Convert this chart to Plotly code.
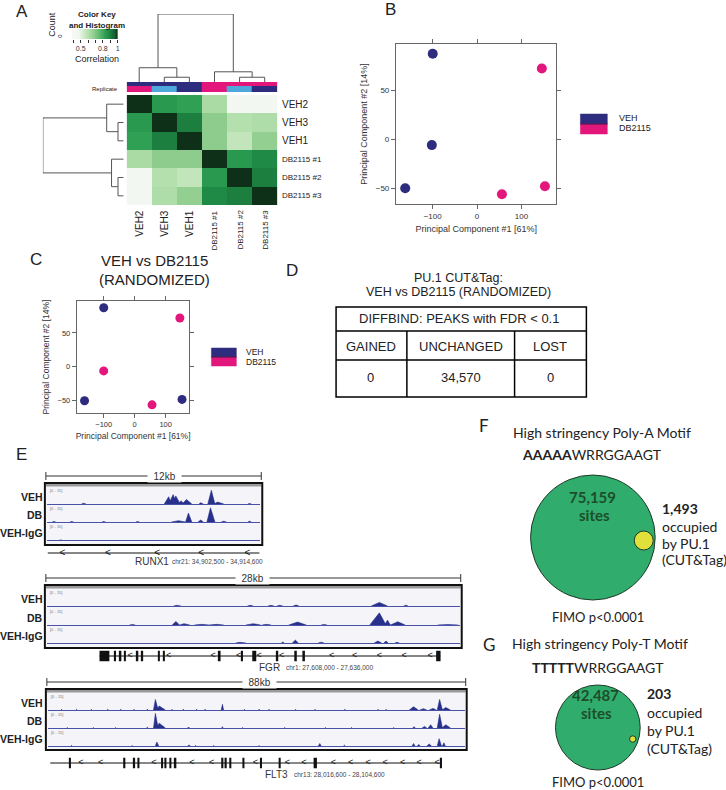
import plotly.graph_objects as go

W, H = 726, 790
FONT = "Liberation Sans"
FONT2 = "Lato"
NAVY = "#2e2c7e"
MAGENTA = "#e3167b"
LIGHTBLUE = "#4fa8dc"
TRACK_BLUE = "#27318b"
DARK = "#222222"

# ---------------- Panel A data ----------------
samples = ["VEH2", "VEH3", "VEH1", "DB2115 #1", "DB2115 #2", "DB2115 #3"]
corr = [
    [1.00, 0.84, 0.82, 0.62, 0.45, 0.45],
    [0.84, 1.00, 0.90, 0.68, 0.60, 0.61],
    [0.82, 0.90, 1.00, 0.68, 0.57, 0.67],
    [0.62, 0.68, 0.68, 1.00, 0.84, 0.88],
    [0.45, 0.60, 0.57, 0.84, 1.00, 0.90],
    [0.45, 0.61, 0.67, 0.88, 0.90, 1.00],
]
condition_code = [0, 0, 0, 1, 1, 1]      # 0 = VEH (navy), 1 = DB2115 (magenta)
replicate_code = [1, 2, 0, 1, 2, 0]      # 1 = pink, 2 = light blue, 0 = navy
dend_merges = [(1, 2, 0.07), (0, 6, 0.21), (4, 5, 0.07), (3, 8, 0.15), (7, 9, 1.0)]
key_vals = [0.38 + 0.01 * i for i in range(63)]
key_ticks = [0.4, 0.5, 0.6, 0.7, 0.8, 0.9, 1.0]
key_ticktext = ["", "0.5", "", "", "0.8", "", "1"]

# ---------------- Panels B / C data ----------------
pcB_veh_x = [-100, -102, -162]
pcB_veh_y = [87, -6, -50]
pcB_db_x = [146, 56, 153]
pcB_db_y = [72, -56, -48]
pcC_veh_x = [-100, -162, 153]
pcC_veh_y = [87, -50, -48]
pcC_db_x = [146, -100, 56]
pcC_db_y = [72, -6, -56]
pc_ticks = [-100, 0, 100]
pc2_ticks = [-50, 0, 50]

# ---------------- Panel D data ----------------
table_header = "DIFFBIND: PEAKS with FDR < 0.1"
table_cols = ["GAINED", "UNCHANGED", "LOST"]
table_vals = ["0", "34,570", "0"]

# ---------------- Panel E data (peaks: start, summit, end, height) ----------------
runx1_veh = [(1.95, 2.05, 2.2, 0.05), (6.6, 6.85, 7.0, 0.45), (6.85, 7.1, 7.3, 0.58),
             (7.05, 7.25, 7.5, 0.5), (7.4, 7.55, 7.7, 0.2), (7.6, 7.85, 8.15, 0.28),
             (8.55, 8.65, 8.8, 0.08), (9.05, 9.25, 9.45, 0.85), (9.4, 9.6, 9.95, 0.12),
             (11.3, 11.4, 11.5, 0.03)]
runx1_db = [(0.3, 0.4, 0.5, 0.03), (1.3, 1.4, 1.5, 0.03), (3.1, 3.2, 3.3, 0.03),
            (5.0, 5.1, 5.2, 0.03), (7.0, 7.4, 7.8, 0.08), (7.8, 7.96, 8.15, 0.55),
            (8.5, 8.65, 8.8, 0.12), (9.0, 9.2, 9.45, 0.88), (9.8, 9.95, 10.1, 0.05),
            (11.3, 11.4, 11.5, 0.05)]
runx1_igg = [(0.7, 0.78, 0.86, 0.02)]
fgr_veh = [(8.6, 8.8, 9.1, 0.04), (13.6, 13.8, 14.0, 0.04), (15.0, 15.2, 15.4, 0.04),
           (15.6, 15.8, 16.0, 0.04), (16.7, 16.9, 17.1, 0.06), (22.0, 22.55, 23.1, 0.22),
           (24.2, 24.35, 24.5, 0.05)]
fgr_db = [(5.6, 5.8, 6.0, 0.03), (8.5, 8.75, 9.0, 0.22), (9.0, 9.3, 9.7, 0.08),
          (10.0, 10.5, 11.0, 0.04), (11.0, 11.5, 12.0, 0.04), (13.5, 14.0, 14.5, 0.08),
          (14.6, 14.9, 15.2, 0.04), (16.4, 17.0, 17.6, 0.18), (18.6, 18.8, 19.0, 0.03),
          (21.9, 22.55, 23.0, 0.75), (22.9, 23.1, 23.3, 0.3), (23.3, 23.8, 24.3, 0.2),
          (26.5, 27.2, 27.9, 0.03)]
fgr_igg = [(12.8, 13.1, 13.5, 0.04), (15.9, 16.0, 16.1, 0.06), (16.65, 16.85, 17.05, 0.18),
           (18.4, 18.6, 18.8, 0.05), (22.2, 22.45, 22.7, 0.12), (22.85, 23.0, 23.15, 0.12),
           (23.6, 23.75, 23.9, 0.04)]
flt3_veh = [(2.8, 2.9, 3.0, 0.04), (5.9, 6.05, 6.2, 0.04), (9.1, 9.2, 9.3, 0.04),
            (12.5, 12.65, 12.8, 0.04), (15.3, 15.4, 15.5, 0.04), (18.1, 18.2, 18.3, 0.04),
            (20.9, 21.0, 21.1, 0.05), (22.3, 22.7, 23.3, 0.65), (22.9, 23.5, 24.8, 0.25),
            (26.1, 26.2, 26.3, 0.04), (28.5, 28.6, 28.7, 0.05), (31.3, 31.4, 31.5, 0.04),
            (33.1, 33.2, 33.3, 0.05), (36.6, 36.85, 37.1, 0.35), (41.4, 41.5, 41.6, 0.04),
            (44.5, 44.6, 44.7, 0.05), (46.6, 46.7, 46.8, 0.04), (52.2, 52.3, 52.4, 0.04),
            (56.3, 56.4, 56.5, 0.04), (62.6, 62.7, 62.8, 0.04), (69.6, 69.7, 69.8, 0.04),
            (71.3, 71.4, 71.5, 0.04), (76.3, 77.2, 78.2, 0.2), (78.5, 79.3, 80.0, 0.08),
            (80.5, 81.3, 82.0, 0.1), (82.2, 82.7, 83.3, 0.65), (83.2, 84.0, 85.0, 0.15)]
flt3_db = [(4.0, 4.1, 4.2, 0.03), (9.5, 9.6, 9.7, 0.03), (14.2, 14.3, 14.4, 0.03),
           (20.8, 21.0, 21.2, 0.05), (22.3, 22.7, 23.3, 0.9), (22.9, 23.5, 24.8, 0.3),
           (29.5, 29.7, 29.9, 0.06), (36.7, 36.85, 37.0, 0.08), (41.0, 41.1, 41.2, 0.03),
           (49.9, 50.0, 50.1, 0.03), (58.5, 58.6, 58.7, 0.03), (64.0, 64.1, 64.2, 0.03),
           (72.9, 73.0, 73.1, 0.03), (77.0, 77.3, 77.6, 0.08), (79.0, 79.5, 80.0, 0.1),
           (80.3, 80.8, 81.3, 0.2), (82.2, 82.7, 83.3, 0.85), (83.2, 84.0, 85.0, 0.2)]
flt3_igg = [(4.9, 5.0, 5.1, 0.04), (17.7, 17.8, 17.9, 0.03), (22.7, 23.0, 23.4, 0.25),
            (29.5, 29.8, 30.1, 0.06), (31.1, 31.2, 31.3, 0.04), (34.9, 35.0, 35.1, 0.03),
            (44.5, 44.6, 44.7, 0.03), (57.1, 57.4, 57.7, 0.15), (62.4, 62.6, 62.8, 0.05),
            (76.9, 77.2, 77.5, 0.15), (78.0, 78.3, 78.6, 0.1), (80.0, 80.5, 81.0, 0.12),
            (82.2, 82.6, 83.1, 0.45), (83.3, 83.6, 83.9, 0.2)]

runx1_span = [0.05, 11.95]
runx1_arrows = [0.88, 3.43, 6.2, 8.68, 11.28]
runx1_exons = []
fgr_span = [3.57, 26.68]
fgr_arrows = [5.65, 8.26, 11.27, 13.0, 14.4, 15.92, 19.31, 20.88, 22.55, 24.23, 26.0]
fgr_exons = [(3.57, 4.24), (4.57, 4.69), (4.93, 5.05), (5.24, 5.36), (6.08, 6.2), (6.41, 6.53),
             (7.53, 7.65), (7.87, 7.99), (11.66, 11.78), (13.18, 13.3), (13.93, 14.2),
             (15.57, 15.69), (16.78, 16.95), (17.33, 17.5), (26.4, 26.7)]
flt3_span = [0.5, 83.2]
flt3_arrows = [6.95, 11.12, 22.39, 30.39, 34.56, 43.8, 50.55, 54.03, 60.29, 63.9, 67.6,
               71.2, 74.9, 78.4, 82.2]
flt3_exons = [(4.45, 4.87), (15.9, 16.35), (18.0, 18.42), (18.9, 19.33), (23.9, 24.33),
              (24.6, 25.03), (25.65, 26.08), (26.7, 27.12), (36.6, 37.05), (37.3, 37.75),
              (38.3, 38.73), (41.07, 41.5), (44.77, 45.2), (48.72, 49.15), (56.1, 56.8),
              (82.78, 83.2)]

# ---------------- Helpers ----------------
def px(x):
    return x / W


def py(y):
    return 1 - y / H


layout = dict(width=W, height=H, autosize=False, margin=dict(l=0, r=0, t=0, b=0),
              paper_bgcolor="white", plot_bgcolor="rgba(0,0,0,0)", showlegend=False,
              font=dict(family=FONT, color=DARK), barmode="overlay")
shapes = []
annotations = []
fig = go.Figure()


def axis_pair(i, x0, x1, y0, y1, xkw=None, ykw=None):
    sx = "" if i == 1 else str(i)
    base = dict(showgrid=False, zeroline=False, showticklabels=False, ticks="", showline=False,
                fixedrange=True)
    xa = dict(base, domain=[px(x0), px(x1)], anchor="y" + sx)
    ya = dict(base, domain=[py(y1), py(y0)], anchor="x" + sx)
    if xkw:
        xa.update(xkw)
    if ykw:
        ya.update(ykw)
    layout["xaxis" + sx] = xa
    layout["yaxis" + sx] = ya
    return "x" + sx, "y" + sx


def text(x, y, s, size=10, anchor="center", family=FONT, color=DARK, angle=0, yanchor="middle", **kw):
    annotations.append(dict(x=px(x), y=py(y), xref="paper", yref="paper", text=s, showarrow=False,
                            font=dict(size=size, family=family, color=color), xanchor=anchor,
                            yanchor=yanchor, textangle=angle, borderpad=0, **kw))


def rect(x0, y0, x1, y1, fill=None, line="black", lw=1, layer="above"):
    shapes.append(dict(type="rect", xref="paper", yref="paper", x0=px(x0), x1=px(x1), y0=py(y1),
                       y1=py(y0), fillcolor=fill if fill else "rgba(0,0,0,0)",
                       line=dict(color=line, width=lw), layer=layer))


def hline(x0, x1, y, color="black", lw=1):
    shapes.append(dict(type="line", xref="paper", yref="paper", x0=px(x0), x1=px(x1), y0=py(y),
                       y1=py(y), line=dict(color=color, width=lw)))


def vline(x, y0, y1, color="black", lw=1):
    shapes.append(dict(type="line", xref="paper", yref="paper", x0=px(x), x1=px(x), y0=py(y0),
                       y1=py(y1), line=dict(color=color, width=lw)))


def circle(cx, cy, r, fill, line="#1f3a28", lw=1):
    shapes.append(dict(type="circle", xref="paper", yref="paper", x0=px(cx - r), x1=px(cx + r),
                       y0=py(cy + r), y1=py(cy - r), fillcolor=fill, line=dict(color=line, width=lw)))


# ---------------- Panel A ----------------
text(22, 12, "A", size=17)
green_scale = [[0, "#f7f7f7"], [0.12, "#f1f7ef"], [0.33, "#b5e0ae"], [0.47, "#8ccc8c"],
               [0.7, "#30a055"], [0.8, "#1f8a45"], [0.85, "#1a7a3e"], [0.93, "#155f30"],
               [1, "#0e2f18"]]
xa, ya = axis_pair(1, 127, 278, 95, 205, xkw=dict(range=[-0.5, 5.5]), ykw=dict(range=[5.5, -0.5]))
fig.add_trace(go.Heatmap(z=corr, x=list(range(6)), y=list(range(6)), colorscale=green_scale,
                         zmin=0.4, zmax=1.0, showscale=False, xaxis=xa, yaxis=ya, hoverinfo="skip"))
for i, s in enumerate(samples):
    fs = 10 if s.startswith("VEH") else 8
    annotations.append(dict(x=5.5, y=i, xref="x", yref="y", text=s, showarrow=False, xanchor="left",
                            xshift=3, font=dict(size=fs, family=FONT, color=DARK)))
    annotations.append(dict(x=i, y=5.5, xref="x", yref="y", text=s, showarrow=False, textangle=-90,
                            xanchor="center", yanchor="top", yshift=-3,
                            font=dict(size=fs, family=FONT, color=DARK)))

# dendrograms
pos = {i: float(i) for i in range(6)}
hgt = {i: 0.0 for i in range(6)}
dx, dy = [], []
for k, (a, b, h) in enumerate(dend_merges):
    node = 6 + k
    dx += [pos[a], pos[a], pos[b], pos[b], None]
    dy += [hgt[a], h, h, hgt[b], None]
    pos[node] = (pos[a] + pos[b]) / 2
    hgt[node] = h
xa, ya = axis_pair(3, 127, 278, 14, 82, xkw=dict(range=[-0.5, 5.5]), ykw=dict(range=[0, 1.0]))
fig.add_trace(go.Scatter(x=dx, y=dy, mode="lines", line=dict(color="#555", width=1), xaxis=xa,
                         yaxis=ya, hoverinfo="skip"))
xa, ya = axis_pair(4, 43, 124, 95, 205, xkw=dict(range=[1.0, 0]), ykw=dict(range=[5.5, -0.5]))
fig.add_trace(go.Scatter(x=dy, y=dx, mode="lines", line=dict(color="#555", width=1), xaxis=xa,
                         yaxis=ya, hoverinfo="skip"))

# replicate bar
bar_scale = [[0, NAVY], [0.33, NAVY], [0.34, MAGENTA], [0.66, MAGENTA], [0.67, LIGHTBLUE], [1, LIGHTBLUE]]
xa, ya = axis_pair(5, 127, 278, 82, 92, xkw=dict(range=[-0.5, 5.5]), ykw=dict(range=[1.0, 0]))
fig.add_trace(go.Heatmap(z=[condition_code, replicate_code], x=list(range(6)), y=[0, 0.4, 1.0],
                         colorscale=bar_scale, zmin=0, zmax=2, showscale=False, xaxis=xa, yaxis=ya,
                         hoverinfo="skip"))
text(119, 89, "Replicate", size=6, anchor="right")

# color key
xa, ya = axis_pair(2, 72, 118, 29, 39,
                   xkw=dict(range=[0.38, 1.0], ticks="outside", ticklen=3, tickwidth=1, tickcolor="#333",
                            showticklabels=True, tickvals=key_ticks, ticktext=key_ticktext,
                            tickfont=dict(size=7, color="#333")),
                   ykw=dict(range=[-0.5, 0.5]))
fig.add_trace(go.Heatmap(z=[key_vals], x=key_vals, y=[0], colorscale=green_scale, zmin=0.4, zmax=1.0,
                         showscale=False, xaxis=xa, yaxis=ya, hoverinfo="skip"))
text(97, 15, "<b>Color Key</b>", size=8)
text(97, 26, "<b>and Histogram</b>", size=8)
text(97, 59, "Correlation", size=9)
text(52, 24, "Count", size=9, angle=-90)
text(60, 36, "0", size=6, angle=-90)

# ---------------- Panel B ----------------
text(392, 10, "B", size=17)


def pca_axes(i, x0, x1, y0, y1, xr, yr, fs, tfs, standx, standy):
    common = dict(showline=True, linecolor="#666", linewidth=1, mirror="allticks", ticks="outside",
                  ticklen=4, tickcolor="#666", showticklabels=True,
                  tickfont=dict(size=fs, color="#333"))
    return axis_pair(i, x0, x1, y0, y1,
                     xkw=dict(common, range=xr, tickvals=pc_ticks,
                              title=dict(text="Principal Component #1 [61%]", font=dict(size=tfs, color="#333"),
                                         standoff=standx)),
                     ykw=dict(common, range=yr, tickvals=pc2_ticks,
                              title=dict(text="Principal Component #2 [14%]", font=dict(size=tfs, color="#333"),
                                         standoff=standy)))


xa, ya = pca_axes(6, 397, 558, 44, 204, [-183, 179], [-66, 97], 8, 9, 6, 6)
fig.add_trace(go.Scatter(x=pcB_veh_x, y=pcB_veh_y, mode="markers", marker=dict(size=10, color=NAVY),
                         xaxis=xa, yaxis=ya, hoverinfo="skip"))
fig.add_trace(go.Scatter(x=pcB_db_x, y=pcB_db_y, mode="markers", marker=dict(size=10, color=MAGENTA),
                         xaxis=xa, yaxis=ya, hoverinfo="skip"))
rect(582, 114, 609, 124, fill=NAVY, line=NAVY, lw=0.5)
rect(582, 124, 609, 134, fill=MAGENTA, line=MAGENTA, lw=0.5)
hline(582, 609, 124, color="#3a1f4a", lw=1)
text(620, 118, "VEH", size=9, anchor="left")
text(620, 128, "DB2115", size=9, anchor="left")

# ---------------- Panel C ----------------
text(36, 259, "C", size=17)
text(155, 260, "VEH vs DB2115", size=15)
text(155, 279, "(RANDOMIZED)", size=15)
xa, ya = pca_axes(7, 77, 190, 301, 413, [-187, 177], [-68, 97], 7.5, 8.5, 5, 6)
fig.add_trace(go.Scatter(x=pcC_veh_x, y=pcC_veh_y, mode="markers", marker=dict(size=9, color=NAVY),
                         xaxis=xa, yaxis=ya, hoverinfo="skip"))
fig.add_trace(go.Scatter(x=pcC_db_x, y=pcC_db_y, mode="markers", marker=dict(size=9, color=MAGENTA),
                         xaxis=xa, yaxis=ya, hoverinfo="skip"))
rect(212, 348, 237, 357, fill=NAVY, line=NAVY, lw=0.5)
rect(212, 357, 237, 366, fill=MAGENTA, line=MAGENTA, lw=0.5)
hline(212, 237, 357, color="#3a1f4a", lw=1)
text(246, 352, "VEH", size=8.5, anchor="left")
text(246, 362, "DB2115", size=8.5, anchor="left")

# ---------------- Panel D ----------------
text(293, 270, "D", size=17)
text(460, 278, "PU.1 CUT&Tag:", size=12.5)
text(460, 292, "VEH vs DB2115 (RANDOMIZED)", size=12.5)
rect(337, 307, 588, 397, lw=1.5)
hline(337, 588, 331, lw=1.5)
hline(337, 588, 360, lw=1.5)
vline(408, 331, 397, lw=1.5)
vline(516, 331, 397, lw=1.5)
text(460, 319, table_header, size=13)
col_cx = [372, 462, 552]
for cx, c, v in zip(col_cx, table_cols, table_vals):
    text(cx, 346, c, size=13)
    text(cx, 377, v, size=13)

# ---------------- Panel E ----------------
text(22, 455, "E", size=17)
regions = [
    dict(box=(45, 263, 483, 545), L=12, tracks=[(487, 504), (505, 522), (523, 540)],
         gene=(546, 560), peaks=[runx1_veh, runx1_db, runx1_igg], span=runx1_span,
         arrows=runx1_arrows, exons=runx1_exons, sb_y=476, sb_label="12kb", sb_x=165,
         name="RUNX1", name_x=152, name_y=561, chrom="chr21: 34,902,500 - 34,914,600", chrom_x=218,
         arrow_size=10),
    dict(box=(45, 463, 585, 648), L=28, tracks=[(589, 606), (608, 625), (626, 643)],
         gene=(649, 663), peaks=[fgr_veh, fgr_db, fgr_igg], span=fgr_span,
         arrows=fgr_arrows, exons=fgr_exons, sb_y=578, sb_label="28kb", sb_x=253,
         name="FGR", name_x=270, name_y=667, chrom="chr1: 27,608,000 - 27,636,000", chrom_x=330,
         arrow_size=9),
    dict(box=(46, 468, 689, 750), L=88, tracks=[(693, 710), (711, 728), (729, 746)],
         gene=(756, 770), peaks=[flt3_veh, flt3_db, flt3_igg], span=flt3_span,
         arrows=flt3_arrows, exons=flt3_exons, sb_y=682, sb_label="88kb", sb_x=260,
         name="FLT3", name_x=277, name_y=774, chrom="chr13: 28,016,600 - 28,104,600", chrom_x=340,
         arrow_size=9),
]
track_names = ["VEH", "DB", "VEH-IgG"]
ax_i = 8
for r, reg in enumerate(regions):
    bx0, bx1, by0, by1 = reg["box"]
    # box background + border
    rect(bx0, by0, bx1, by1, fill="#f5f5f9", line="rgba(0,0,0,0)", lw=0, layer="below")
    rect(bx0 + 1, by0 + 1, bx1 - 1, by0 + 3.5, fill="#9a9a9a", line="rgba(0,0,0,0)", lw=0)
    rect(bx0, by0, bx1, by1, line="#111", lw=2)
    # scale bar
    hline(bx0 + 1, bx1 - 1, reg["sb_y"], color="#333", lw=1)
    vline(bx0 + 1, reg["sb_y"] - 4, reg["sb_y"] + 4, color="#333", lw=1)
    vline(bx1 - 1, reg["sb_y"] - 4, reg["sb_y"] + 4, color="#333", lw=1)
    text(reg["sb_x"], reg["sb_y"], "&nbsp;&nbsp;" + reg["sb_label"] + "&nbsp;&nbsp;", size=10,
         bgcolor="white", color="#333")
    for t, (ty0, ty1) in enumerate(reg["tracks"]):
        xa, ya = axis_pair(ax_i, bx0 + 2, bx1 - 2, ty0, ty1,
                           xkw=dict(range=[0, reg["L"]], showline=True, linecolor="#4a52a8", linewidth=1),
                           ykw=dict(range=[0, 1.05]))
        ax_i += 1
        xs, ys = [], []
        for s, m, e, h in reg["peaks"][t]:
            xs += [s, m, e, None]
            ys += [0, h, 0, None]
        fig.add_trace(go.Scatter(x=xs, y=ys, mode="lines", fill="toself", fillcolor=TRACK_BLUE,
                                 line=dict(color=TRACK_BLUE, width=0.6), xaxis=xa, yaxis=ya,
                                 hoverinfo="skip"))
        text(bx0 + 4, ty0 + 3, "[0 - 15]", size=4, anchor="left", color="#777")
        text(44, (ty0 + ty1) / 2 + 1, "<b>" + track_names[t] + "</b>", size=10.5, anchor="right")
    # gene model
    gy0, gy1 = reg["gene"]
    xa, ya = axis_pair(16 + r + 1, bx0 + 2, bx1 - 2, gy0, gy1,
                       xkw=dict(range=[0, reg["L"]]), ykw=dict(range=[-1, 1]))
    fig.add_trace(go.Scatter(x=reg["span"], y=[0, 0], mode="lines", line=dict(color="#111", width=1.1),
                             xaxis=xa, yaxis=ya, hoverinfo="skip"))
    if reg["exons"]:
        fig.add_trace(go.Bar(x=[(a + b) / 2 for a, b in reg["exons"]], y=[1.5] * len(reg["exons"]),
                             base=-0.75, width=[b - a for a, b in reg["exons"]],
                             marker=dict(color="#111", line=dict(width=0)), xaxis=xa, yaxis=ya,
                             hoverinfo="skip"))
    fig.add_trace(go.Scatter(x=reg["arrows"], y=[0] * len(reg["arrows"]), mode="text",
                             text=["<"] * len(reg["arrows"]), textposition="middle center",
                             textfont=dict(size=reg["arrow_size"], color="#111", family=FONT),
                             xaxis=xa, yaxis=ya, hoverinfo="skip"))
    text(reg["name_x"], reg["name_y"], reg["name"], size=10, color="#333")
    text(reg["chrom_x"], reg["name_y"], reg["chrom"], size=6.5, color="#444")

# ---------------- Panel F ----------------
GREEN = "#30ad6c"
YELLOW = "#dfe03a"
DKGREEN = "#1d4d2b"
text(485, 425, "F", size=17, family=FONT2)
text(513, 432, "High stringency Poly-A Motif", size=14, anchor="left", family=FONT2)
text(594, 455, "<b>AAAAA</b>WRRGGAAGT", size=14, family=FONT2)
circle(594.5, 537.5, 62.5, GREEN)
circle(645.5, 540.5, 9.5, YELLOW)
text(594, 497, "<b>75,159</b>", size=15, family=FONT2, color=DKGREEN)
text(596, 515, "<b>sites</b>", size=15, family=FONT2, color=DKGREEN)
text(663, 508, "<b>1,493</b>", size=14, anchor="left", family=FONT2)
text(663, 526, "occupied", size=14, anchor="left", family=FONT2)
text(663, 543, "by PU.1", size=14, anchor="left", family=FONT2)
text(663, 559, "(CUT&Tag)", size=14, anchor="left", family=FONT2)
text(600, 617, "FIMO p&lt;0.0001", size=13, family=FONT2)

# ---------------- Panel G ----------------
text(490, 644, "G", size=17, family=FONT2)
text(512, 643, "High stringency Poly-T Motif", size=14, anchor="left", family=FONT2)
text(600, 667, "<b>TTTTT</b>WRRGGAAGT", size=14, family=FONT2)
circle(599.5, 727.5, 42.5, GREEN)
circle(634.5, 739, 3.2, YELLOW)
text(597, 695, "<b>42,487</b>", size=15, family=FONT2, color=DKGREEN)
text(598, 713, "<b>sites</b>", size=15, family=FONT2, color=DKGREEN)
text(648, 693, "<b>203</b>", size=14, anchor="left", family=FONT2)
text(648, 712, "occupied", size=14, anchor="left", family=FONT2)
text(648, 730, "by PU.1", size=14, anchor="left", family=FONT2)
text(648, 748, "(CUT&Tag)", size=14, anchor="left", family=FONT2)
text(600, 782, "FIMO p&lt;0.0001", size=13, family=FONT2)

layout["shapes"] = shapes
layout["annotations"] = annotations
fig.update_layout(**layout)
fig.write_html("out.html", config=dict(displayModeBar=False),
               post_script="document.body.style.margin='0px';document.body.style.overflow='hidden';")
